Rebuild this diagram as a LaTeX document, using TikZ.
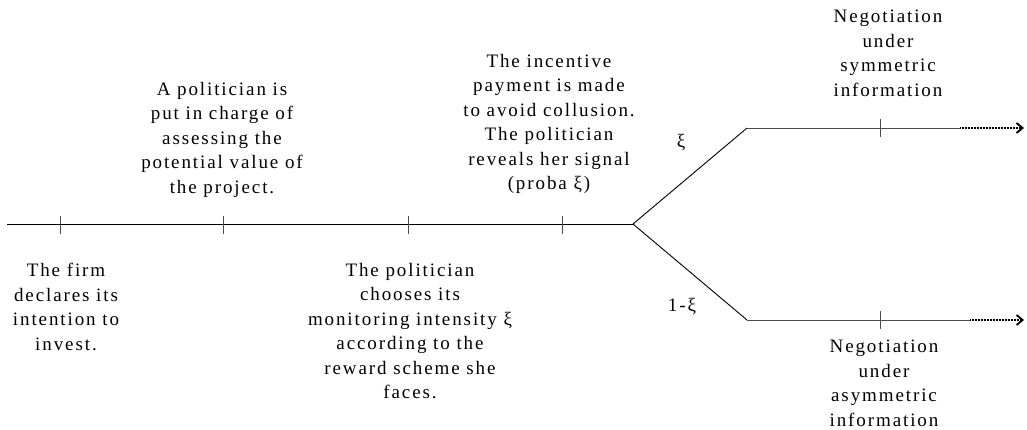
\documentclass[tikz,border=0pt]{standalone}
\usepackage{fontspec}
\setmainfont{Liberation Serif}[LetterSpace=10]
\usetikzlibrary{arrows.meta}
\begin{document}
\begin{tikzpicture}[x=1pt,y=-1pt,
  lbl/.style={align=center,inner sep=0pt,anchor=north,font=\fontsize{19}{24.5}\selectfont},
  prob/.style={inner sep=0pt,font=\fontsize{19}{24.5}\selectfont},
  axis/.style={line width=0.9pt,black},
  branch/.style={line width=0.9pt,black!70},
  tickmark/.style={line width=0.9pt,black!70},
  future/.style={line width=1.6pt,dash pattern=on 1pt off 0.5pt,-{Straight Barb[length=6pt,width=10pt,line width=1.9pt]}}
]
\useasboundingbox (0,0) rectangle (1027,430);
% timeline points
\coordinate (start) at (7,224);
\coordinate (t1) at (60,224);
\coordinate (t2) at (223,224);
\coordinate (t3) at (408,224);
\coordinate (t4) at (562,224);
\coordinate (split) at (633,224);
\coordinate (up) at (747,128);
\coordinate (down) at (747,320);
\coordinate (ut) at (880,128);
\coordinate (dt) at (880,320);
\coordinate (uend) at (960,128);
\coordinate (dend) at (970,320);
\coordinate (uarrow) at (1024,128);
\coordinate (darrow) at (1024,320);
% lines
\draw[axis] (start) -- (split);
\draw[axis] (split) -- (up);
\draw[axis] (split) -- (down);
\draw[branch] (up) -- (uend);
\draw[branch] (down) -- (dend);
\draw[future] (uend) -- (uarrow);
\draw[future] (dend) -- (darrow);
% ticks
\foreach \t in {t1,t2,t3,t4}{\draw[tickmark] (\t) ++(0,-8) -- ++(0,18);}
\draw[tickmark] (ut) ++(0,-9) -- ++(0,18);
\draw[tickmark] (dt) ++(0,-9) -- ++(0,18);
% labels
\node[lbl] (l1) at (66,263) {The firm\\declares its\\intention to\\invest.};
\node[lbl] (l2) at (222,82) {A politician is\\put in charge of\\assessing the\\potential value of\\the project.};
\node[lbl] (l3) at (410,263) {The politician\\chooses its\\monitoring intensity ξ\\according to the\\reward scheme she\\faces.};
\node[lbl] (l4) at (549,54) {The incentive\\payment is made\\to avoid collusion.\\The politician\\reveals her signal\\(proba ξ)};
\node[lbl] (l5) at (888,10) {Negotiation\\under\\symmetric\\information};
\node[lbl] (l6) at (884,340) {Negotiation\\under\\asymmetric\\information};
\node[prob] (p1) at (681,143) {ξ};
\node[prob] (p2) at (682,307) {1-ξ};
\end{tikzpicture}
\end{document}
